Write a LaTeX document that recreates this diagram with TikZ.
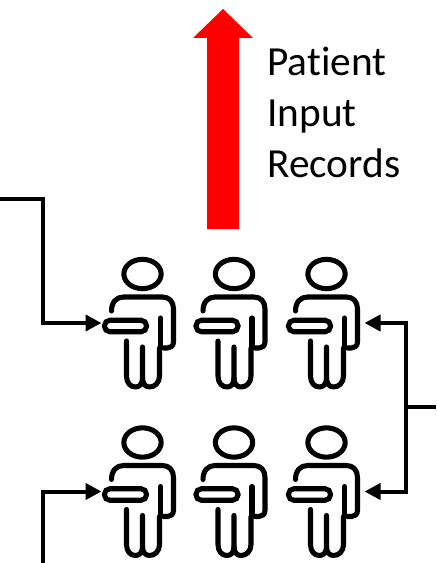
\documentclass[tikz,border=0pt]{standalone}
\usepackage{fontspec}
\setmainfont[Ligatures=NoCommon]{Carlito}
\usetikzlibrary{arrows.meta}
\tikzset{
  x=0.75pt,y=-0.75pt,
  figure/.style={line width=3.8pt,line cap=round,line join=round,draw=black},
  tray/.style={draw=black,line width=3.8pt,rounded corners=4pt,minimum width=31.5pt,minimum height=8.6pt,inner sep=0pt},
  link/.style={draw=black,line width=3pt,-{Triangle[length=12pt,width=12pt]}},
  plain/.style={draw=black,line width=3pt},
  label/.style={font=\fontsize{31}{38.3}\selectfont,align=left,anchor=north west,inner sep=0pt,text=black},
  person/.pic={
    \draw[figure] (0,0) ellipse [x radius=14pt,y radius=11pt];
    \draw[figure] (-31,37) .. controls (-31,28) and (-26,23) .. (-19,23)
      -- (20,23) .. controls (27,23) and (31,28) .. (31,35)
      -- (31,68) .. controls (31,72) and (28,74) .. (25,74) -- (21,74);
    \draw[figure] (18,44) -- (18,74);
    \draw[figure] (-16,67) -- (-16,102) .. controls (-16,109) and (-12,113) .. (-7,113)
      .. controls (-3,113) and (0,110) .. (0,104) -- (0,73);
    \draw[figure] (0,104) .. controls (0,110) and (3,113) .. (7,113)
      .. controls (12,113) and (17,109) .. (17,102) -- (17,74);
    \node[tray] (-tr) at (-17,52) {};
    \coordinate (-lf) at (-41,49);
    \coordinate (-rt) at (38,49);
  }
}
\begin{document}
\begin{tikzpicture}
\useasboundingbox (0,0) rectangle (436,563);
\fill[red] (223,9) -- (253,38) -- (239,38) -- (239,229) -- (207,229) -- (207,38) -- (193,38) -- cycle;
\node[label] (rec) at (267,47) {Patient\\Input\\Records};
\pic (a) at (142.5,274) {person};
\pic (b) at (234,274) {person};
\pic (c) at (326.5,274) {person};
\pic (d) at (142.5,442.5) {person};
\pic (e) at (234,442.5) {person};
\pic (f) at (326.5,442.5) {person};
\coordinate (tl) at (0,199);
\coordinate (bl) at (43,563);
\coordinate (rr) at (436,407);
\coordinate (j) at (406,407);
\draw[link] (tl) -| (43,323) -- (a-lf);
\draw[link] (bl) |- (d-lf);
\draw[plain] (rr) -- (j);
\draw[link] (j) |- (c-rt);
\draw[link] (j) |- (f-rt);
\end{tikzpicture}
\end{document}
